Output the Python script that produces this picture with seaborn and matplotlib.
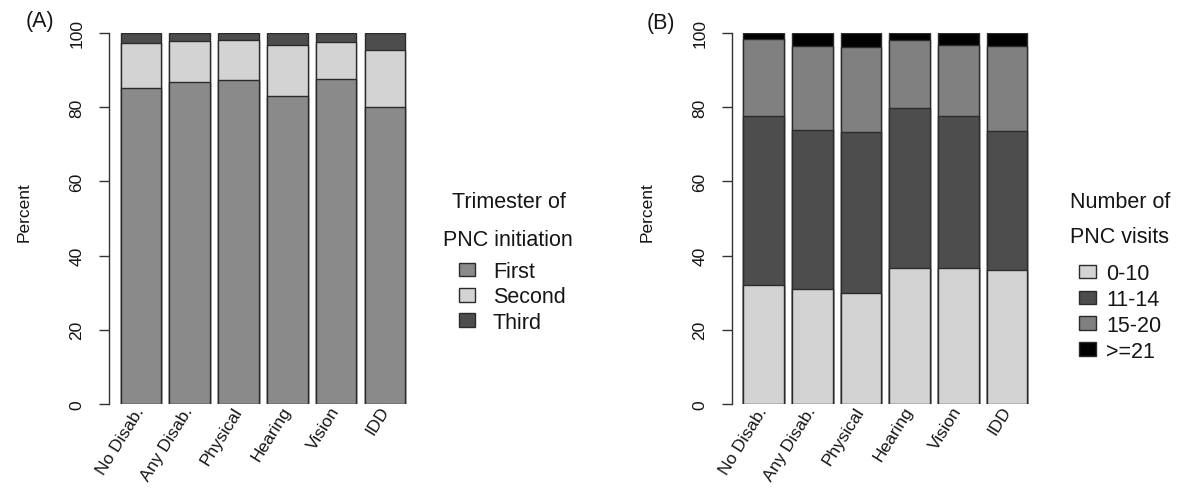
import matplotlib
matplotlib.use("Agg")
import matplotlib.pyplot as plt
import seaborn as sns
import numpy as np
from matplotlib.patches import Patch

sns.set_theme(style="white")
plt.rcParams['font.family'] = ['Liberation Sans', 'DejaVu Sans']

# ---- data ----
categories = ["No Disab.", "Any Disab.", "Physical", "Hearing", "Vision", "IDD"]

# Panel A: trimester of PNC initiation (percent)
tri_labels = ["First", "Second", "Third"]
tri_first = [85.1, 86.7, 87.4, 82.9, 87.5, 80.1]
tri_second = [12.3, 11.1, 10.6, 14.0, 10.2, 15.2]
tri_third = [2.6, 2.2, 2.0, 3.1, 2.3, 4.7]

# Panel B: number of PNC visits (percent)
vis_labels = ["0-10", "11-14", "15-20", ">=21"]
vis_0_10 = [32.2, 30.9, 29.9, 36.7, 36.7, 36.2]
vis_11_14 = [45.5, 43.0, 43.3, 43.0, 41.0, 37.3]
vis_15_20 = [20.7, 22.5, 22.9, 18.4, 19.1, 22.9]
vis_21 = [1.6, 3.6, 3.9, 1.9, 3.2, 3.6]

yticks = [0, 20, 40, 60, 80, 100]

tri_colors = ["#8a8a8a", "#d3d3d3", "#4d4d4d"]
vis_colors = ["#d3d3d3", "#4d4d4d", "#808080", "#000000"]
edge = "#2b2b2b"
axis_col = "#333333"
txt = "#151515"

W, H = 1186, 489
fig = plt.figure(figsize=(W / 100, H / 100), dpi=100)


def make_axes(left_px, pitch_px, xl):
    width_px = (xl[1] - xl[0]) * pitch_px
    return fig.add_axes([left_px / W, (H - 405) / H, width_px / W, 371 / H])


def draw_panel(ax, layers, colors, xl, pitch):
    cum = np.cumsum(np.array(layers), axis=0)
    # draw tallest cumulative first so lower layers overlay
    for k in range(len(layers) - 1, -1, -1):
        sns.barplot(x=categories, y=list(cum[k]), order=categories, color=colors[k],
                    saturation=1, edgecolor=edge, linewidth=1.0, width=0.835,
                    errorbar=None, ax=ax)
    ax.set_xlim(*xl)
    ax.set_ylim(0, 100)
    for s in ["top", "right", "bottom"]:
        ax.spines[s].set_visible(False)
    ax.spines["left"].set_bounds(0, 100)
    ax.spines["left"].set_color(axis_col)
    ax.spines["left"].set_linewidth(1.0)
    ax.set_yticks(yticks)
    ax.set_yticklabels([str(v) for v in yticks])
    ax.tick_params(axis="y", direction="out", length=7.2, width=1.0, color=axis_col,
                   labelsize=12.5, pad=10.0, left=True, labelcolor=txt)
    for lbl in ax.get_yticklabels():
        lbl.set_rotation(90)
        lbl.set_va("center")
    ax.set_xticks(range(len(categories)))
    ax.set_xticklabels(categories)
    ax.tick_params(axis="x", length=0, labelsize=12.5, pad=2.5, labelcolor=txt)
    for lbl in ax.get_xticklabels():
        lbl.set_rotation(58)
        lbl.set_ha("right")
        lbl.set_va("center")
        lbl.set_rotation_mode("anchor")
    ax.set_xlabel("")
    ax.set_ylabel("Percent", fontsize=12.5, color=txt)
    width_px = (xl[1] - xl[0]) * pitch
    ax.yaxis.set_label_coords(-77 / width_px, (405 - 212) / 371)
    ax.patch.set_alpha(0)


xlA = (-0.664, 5.664)
axA = make_axes(108.5, 48.8, xlA)
draw_panel(axA, [tri_first, tri_second, tri_third], tri_colors, xlA, 48.8)

xlB = (-0.66, 5.664)
axB = make_axes(731.5, 48.7, xlB)
draw_panel(axB, [vis_0_10, vis_11_14, vis_15_20, vis_21], vis_colors, xlB, 48.7)

# panel letters
fig.text(26 / W, 1 - 22 / H, "(A)", fontsize=15.5, ha="left", va="center", color=txt)
fig.text(647 / W, 1 - 23 / H, "(B)", fontsize=15.5, ha="left", va="center", color=txt)

# legends
leg_fs = 15.5
fig.text(509 / W, 1 - 203 / H, "Trimester of", fontsize=leg_fs, ha="center", va="center", color=txt)
fig.text(508 / W, 1 - 240 / H, "PNC initiation", fontsize=leg_fs, ha="center", va="center", color=txt)
handlesA = [Patch(facecolor=c, edgecolor=edge, linewidth=1.0) for c in tri_colors]
legA = fig.legend(handlesA, tri_labels, loc="upper left",
                  bbox_to_anchor=(459 / W, 1 - 262 / H), frameon=False,
                  fontsize=leg_fs, borderpad=0, borderaxespad=0, labelspacing=0.2,
                  handlelength=0.72, handleheight=0.6, handletextpad=0.85)
for t in legA.get_texts():
    t.set_color(txt)

fig.text(1120 / W, 1 - 202 / H, "Number of", fontsize=leg_fs, ha="center", va="center", color=txt)
fig.text(1120 / W, 1 - 238 / H, "PNC visits", fontsize=leg_fs, ha="center", va="center", color=txt)
handlesB = [Patch(facecolor=c, edgecolor=edge, linewidth=1.0) for c in vis_colors]
legB = fig.legend(handlesB, vis_labels, loc="upper left",
                  bbox_to_anchor=(1079 / W, 1 - 264 / H), frameon=False,
                  fontsize=leg_fs, borderpad=0, borderaxespad=0, labelspacing=0.23,
                  handlelength=0.8, handleheight=0.6, handletextpad=0.45)
for t in legB.get_texts():
    t.set_color(txt)

fig.savefig("out.png", dpi=100, facecolor="white")
